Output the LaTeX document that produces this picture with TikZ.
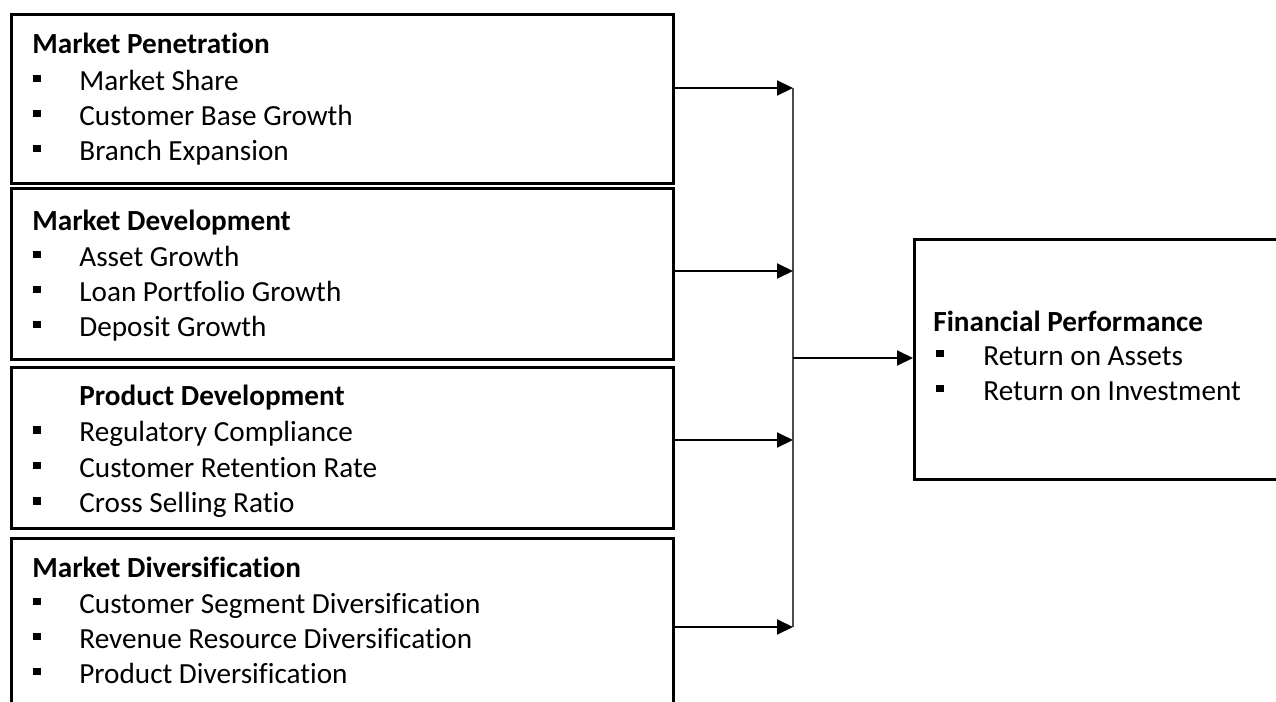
\documentclass[tikz,border=0pt]{standalone}
\usepackage{fontspec}
\setmainfont{Carlito}[Ligatures=NoCommon]
\usetikzlibrary{arrows.meta,positioning}

\newcommand{\boxfont}{\fontsize{14.6pt}{17pt}\selectfont}
\tikzset{
  panel/.style={draw,line width=1.5pt,anchor=north west,inner sep=0pt,
    minimum width=331pt},
  head/.style={anchor=base west,inner sep=0pt,font=\boxfont\bfseries},
  entry/.style={anchor=base west,inner sep=0pt,font=\boxfont},
  sqbul/.style={fill,inner sep=0pt,minimum size=3.8pt},
  feed/.style={line width=1pt,-{Triangle[length=8pt,width=7.5pt]}},
  bus/.style={line width=0.9pt,black!70},
}

\begin{document}
\begin{tikzpicture}[x=0.5pt,y=-0.5pt]
    \useasboundingbox (0,0) rectangle (1276,702);
    % Boxes on the left
    \node[panel,minimum height=84.5pt] (p1) at (10,13) {};
    \node[panel,minimum height=85.5pt] (p2) at (10,187) {};
    \node[panel,minimum height=80.5pt] (p3) at (10,366) {};
    \node[panel,minimum height=100pt] (p4) at (10,537) {};
    % Box on the right
    \node[panel,minimum width=193.5pt,minimum height=120pt] (perf) at (913,238) {};

    % Market Penetration
    \node[head] (h1) at (32,53) {Market Penetration};
    \foreach \txt [count=\i, evaluate=\i as \yy using 55+35*\i] in
        {Market Share,Customer Base Growth,Branch Expansion} {
        \node[entry] (e1-\i) at (79,\yy) {\txt};
        \node[sqbul] (s1-\i) at (37,\yy-11.5) {};
    }
    % Market Development
    \node[head] (h2) at (32,230) {Market Development};
    \foreach \txt [count=\i, evaluate=\i as \yy using 231+35*\i] in
        {Asset Growth,Loan Portfolio Growth,Deposit Growth} {
        \node[entry] (e2-\i) at (79,\yy) {\txt};
        \node[sqbul] (s2-\i) at (37,\yy-11.5) {};
    }
    % Product Development
    \node[head] (h3) at (79,405) {Product Development};
    \foreach \txt [count=\i, evaluate=\i as \yy using 406+35.5*\i] in
        {Regulatory Compliance,Customer Retention Rate,Cross Selling Ratio} {
        \node[entry] (e3-\i) at (79,\yy) {\txt};
        \node[sqbul] (s3-\i) at (37,\yy-11.5) {};
    }
    % Market Diversification
    \node[head] (h4) at (32,577) {Market Diversification};
    \foreach \txt [count=\i, evaluate=\i as \yy using 578+35*\i] in
        {Customer Segment Diversification,Revenue Resource Diversification,Product Diversification} {
        \node[entry] (e4-\i) at (79,\yy) {\txt};
        \node[sqbul] (s4-\i) at (37,\yy-11.5) {};
    }
    % Financial Performance
    \node[head] (h5) at (933,331) {Financial Performance};
    \foreach \txt [count=\i, evaluate=\i as \yy using 330+35*\i] in
        {Return on Assets,Return on Investment} {
        \node[entry] (e5-\i) at (983,\yy) {\txt};
        \node[sqbul] (s5-\i) at (940,\yy-11.5) {};
    }

    % Bus line and arrows
    \coordinate (b1) at (793,88);
    \coordinate (b2) at (793,271);
    \coordinate (b3) at (793,440);
    \coordinate (b4) at (793,627);
    \coordinate (bm) at (793,358);
    \draw[bus] (b1) -- (b4);
    \foreach \k in {1,2,3,4}
        \draw[feed] (p\k.east |- b\k) -- (b\k);
    \draw[feed] (bm) -- (perf.west |- bm);
\end{tikzpicture}
\end{document}
